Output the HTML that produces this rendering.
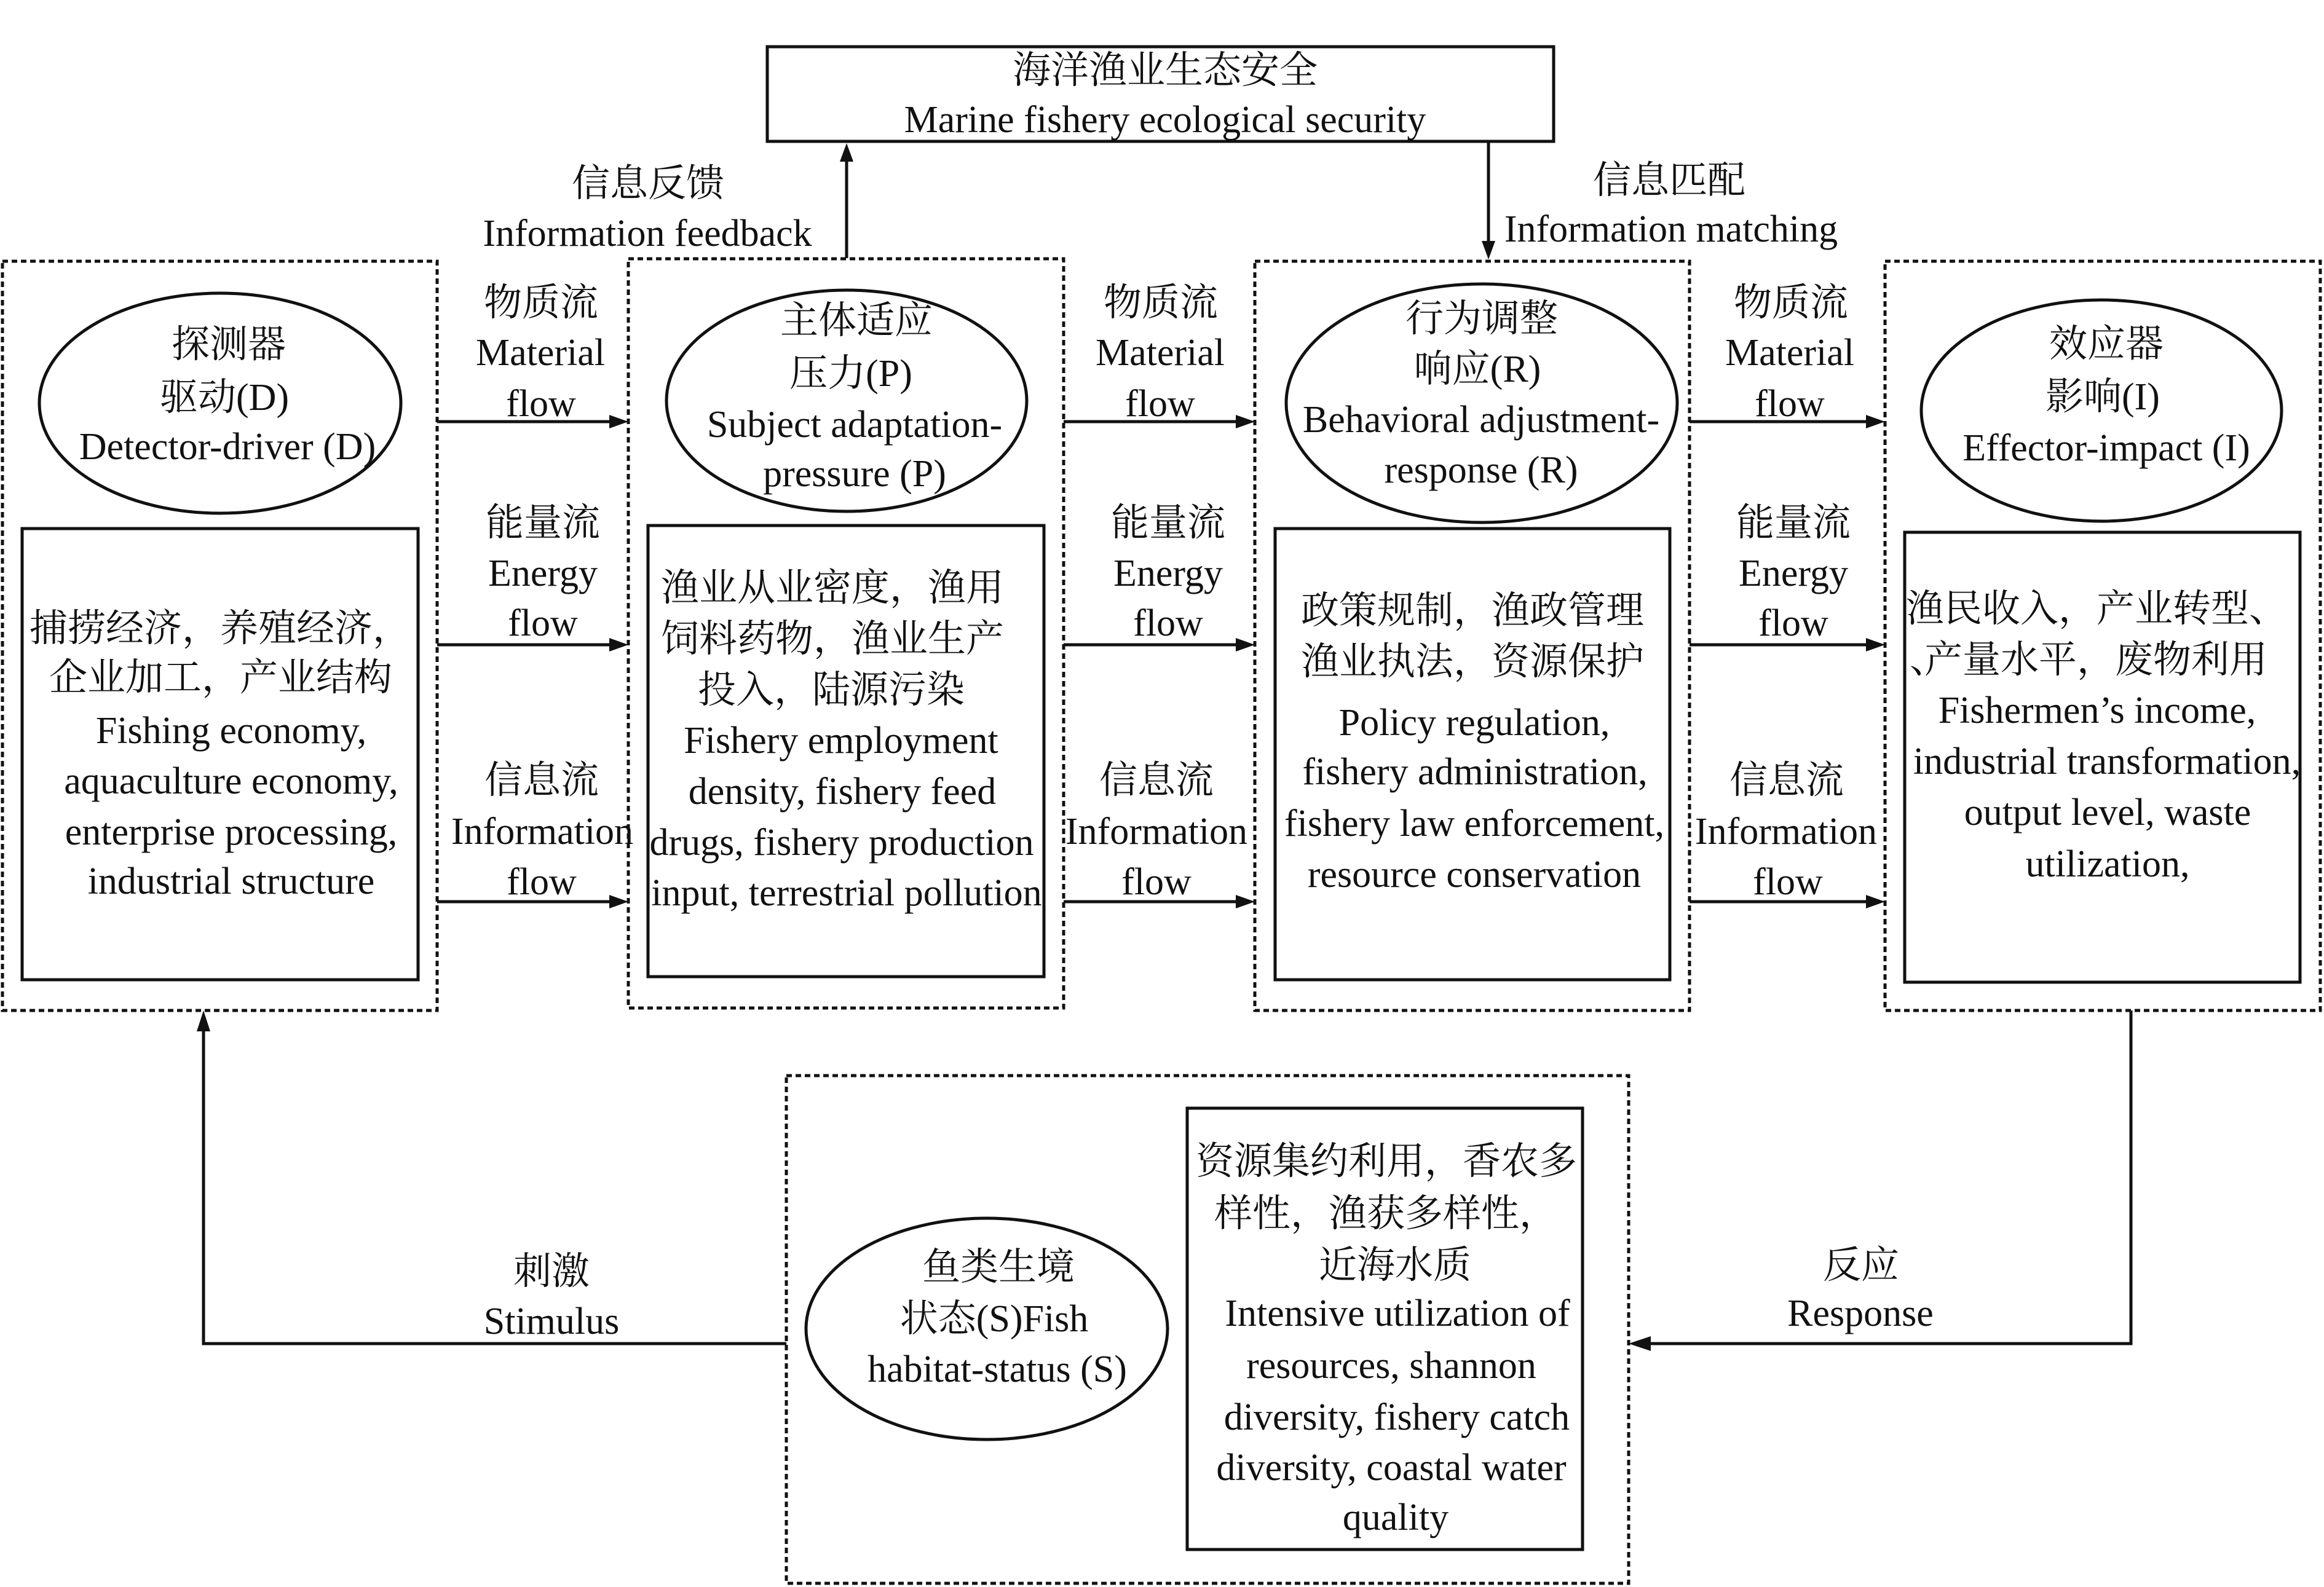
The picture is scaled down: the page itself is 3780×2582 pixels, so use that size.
<!DOCTYPE html>
<html>
<head>
<meta charset="utf-8">
<style>
  html, body { margin: 0; padding: 0; background: #ffffff; }
  svg { display: block; }
  text { font-family: "Liberation Serif", "Noto Serif CJK SC", "Noto Sans CJK SC", serif; font-size: 62px; fill: #111; }
</style>
</head>
<body>
<svg width="3780" height="2582" viewBox="0 0 3780 2582" xmlns="http://www.w3.org/2000/svg">
  <rect x="0" y="0" width="3780" height="2582" fill="#ffffff"/>

  <!-- dotted group boxes -->
  <g fill="none" stroke="#111" stroke-width="5" stroke-dasharray="9 6">
    <rect x="4" y="425" width="707" height="1219"/>
    <rect x="1022" y="421" width="708" height="1219"/>
    <rect x="2041" y="425" width="707" height="1219"/>
    <rect x="3066" y="425" width="708" height="1219"/>
    <rect x="1279" y="1750" width="1370" height="826"/>
  </g>

  <!-- solid boxes -->
  <g fill="none" stroke="#111" stroke-width="5">
    <rect x="1248" y="76" width="1279" height="154"/>
    <rect x="36" y="860" width="644" height="734"/>
    <rect x="1054" y="855" width="644" height="734"/>
    <rect x="2074" y="860" width="642" height="734"/>
    <rect x="3098" y="866" width="643" height="732"/>
    <rect x="1931" y="1803" width="643" height="718"/>
  </g>

  <!-- ellipses -->
  <g fill="none" stroke="#111" stroke-width="5">
    <ellipse cx="358" cy="656" rx="294" ry="179"/>
    <ellipse cx="1377" cy="652" rx="293" ry="180"/>
    <ellipse cx="2410" cy="656" rx="318" ry="194"/>
    <ellipse cx="3418" cy="668" rx="293" ry="180"/>
    <ellipse cx="1605" cy="2162" rx="294" ry="180"/>
  </g>

  <!-- connector lines -->
  <g stroke="#111" stroke-width="5" fill="none">
    <line x1="1377" y1="420" x2="1377" y2="258"/>
    <line x1="2421" y1="230" x2="2421" y2="396"/>
    <line x1="711" y1="686" x2="993" y2="686"/>
    <line x1="711" y1="1049" x2="993" y2="1049"/>
    <line x1="711" y1="1467" x2="993" y2="1467"/>
    <line x1="1730" y1="686" x2="2012" y2="686"/>
    <line x1="1730" y1="1049" x2="2012" y2="1049"/>
    <line x1="1730" y1="1467" x2="2012" y2="1467"/>
    <line x1="2748" y1="686" x2="3037" y2="686"/>
    <line x1="2748" y1="1049" x2="3037" y2="1049"/>
    <line x1="2748" y1="1467" x2="3037" y2="1467"/>
    <polyline points="1279,2186 331,2186 331,1674"/>
    <polyline points="3466,1644 3466,2186 2681,2186"/>
  </g>

  <!-- arrowheads -->
  <g fill="#111" stroke="none">
    <polygon points="1377,233 1366,263 1388,263"/>
    <polygon points="2421,422 2410,392 2432,392"/>
    <polygon points="1022,686 991,675 991,697"/>
    <polygon points="1022,1049 991,1038 991,1060"/>
    <polygon points="1022,1467 991,1456 991,1478"/>
    <polygon points="2041,686 2010,675 2010,697"/>
    <polygon points="2041,1049 2010,1038 2010,1060"/>
    <polygon points="2041,1467 2010,1456 2010,1478"/>
    <polygon points="3066,686 3035,675 3035,697"/>
    <polygon points="3066,1049 3035,1038 3035,1060"/>
    <polygon points="3066,1467 3035,1456 3035,1478"/>
    <polygon points="331,1644 320,1678 342,1678"/>
    <polygon points="2649,2186 2685,2174 2685,2198"/>
  </g>

  <!-- top box text -->
  <text x="1895" y="135" text-anchor="middle">海洋渔业生态安全</text>
  <text x="1895" y="215" text-anchor="middle">Marine fishery ecological security</text>

  <text x="1054" y="319" text-anchor="middle">信息反馈</text>
  <text x="1053" y="400" text-anchor="middle">Information feedback</text>
  <text x="2715" y="314" text-anchor="middle">信息匹配</text>
  <text x="2718" y="393" text-anchor="middle">Information matching</text>

  <!-- gap 1 labels -->
  <text x="880" y="513" text-anchor="middle">物质流</text>
  <text x="879" y="594" text-anchor="middle">Material</text>
  <text x="880" y="677" text-anchor="middle">flow</text>
  <text x="883" y="871" text-anchor="middle">能量流</text>
  <text x="883" y="953" text-anchor="middle">Energy</text>
  <text x="883" y="1034" text-anchor="middle">flow</text>
  <text x="881" y="1290" text-anchor="middle">信息流</text>
  <text x="882" y="1373" text-anchor="middle">Information</text>
  <text x="881" y="1455" text-anchor="middle">flow</text>

  <!-- gap 2 labels -->
  <text x="1888" y="513" text-anchor="middle">物质流</text>
  <text x="1887" y="594" text-anchor="middle">Material</text>
  <text x="1887" y="677" text-anchor="middle">flow</text>
  <text x="1900" y="871" text-anchor="middle">能量流</text>
  <text x="1900" y="953" text-anchor="middle">Energy</text>
  <text x="1900" y="1034" text-anchor="middle">flow</text>
  <text x="1881" y="1290" text-anchor="middle">信息流</text>
  <text x="1881" y="1373" text-anchor="middle">Information</text>
  <text x="1881" y="1455" text-anchor="middle">flow</text>

  <!-- gap 3 labels -->
  <text x="2913" y="513" text-anchor="middle">物质流</text>
  <text x="2911" y="594" text-anchor="middle">Material</text>
  <text x="2911" y="677" text-anchor="middle">flow</text>
  <text x="2917" y="871" text-anchor="middle">能量流</text>
  <text x="2917" y="953" text-anchor="middle">Energy</text>
  <text x="2917" y="1034" text-anchor="middle">flow</text>
  <text x="2906" y="1290" text-anchor="middle">信息流</text>
  <text x="2905" y="1373" text-anchor="middle">Information</text>
  <text x="2908" y="1455" text-anchor="middle">flow</text>

  <!-- ellipse 1 -->
  <text x="372" y="581" text-anchor="middle">探测器</text>
  <text x="365" y="667" text-anchor="middle">驱动(D)</text>
  <text x="370" y="747" text-anchor="middle">Detector-driver (D)</text>

  <!-- ellipse 2 -->
  <text x="1393" y="542" text-anchor="middle">主体适应</text>
  <text x="1384" y="628" text-anchor="middle">压力(P)</text>
  <text x="1390" y="711" text-anchor="middle">Subject adaptation-</text>
  <text x="1390" y="791" text-anchor="middle">pressure (P)</text>

  <!-- ellipse 3 -->
  <text x="2410" y="539" text-anchor="middle">行为调整</text>
  <text x="2403" y="621" text-anchor="middle">响应(R)</text>
  <text x="2409" y="703" text-anchor="middle">Behavioral adjustment-</text>
  <text x="2409" y="785" text-anchor="middle">response (R)</text>

  <!-- ellipse 4 -->
  <text x="3426" y="580" text-anchor="middle">效应器</text>
  <text x="3420" y="666" text-anchor="middle">影响(I)</text>
  <text x="3426" y="749" text-anchor="middle">Effector-impact (I)</text>

  <!-- ellipse 5 -->
  <text x="1624" y="2082" text-anchor="middle">鱼类生境</text>
  <text x="1617" y="2166" text-anchor="middle">状态(S)Fish</text>
  <text x="1622" y="2248" text-anchor="middle">habitat-status (S)</text>

  <!-- inner box 1 -->
  <text x="48" y="1043">捕捞经济，养殖经济，</text>
  <text x="80" y="1123">企业加工，产业结构</text>
  <text x="376" y="1209" text-anchor="middle">Fishing economy,</text>
  <text x="376" y="1291" text-anchor="middle">aquaculture economy,</text>
  <text x="376" y="1374" text-anchor="middle">enterprise processing,</text>
  <text x="376" y="1454" text-anchor="middle">industrial structure</text>

  <!-- inner box 2 -->
  <text x="1075" y="977">渔业从业密度，渔用</text>
  <text x="1075" y="1060">饲料药物，渔业生产</text>
  <text x="1135" y="1143">投入，陆源污染</text>
  <text x="1368" y="1225" text-anchor="middle">Fishery employment</text>
  <text x="1370" y="1308" text-anchor="middle">density, fishery feed</text>
  <text x="1369" y="1391" text-anchor="middle">drugs, fishery production</text>
  <text x="1377" y="1473" text-anchor="middle">input, terrestrial pollution</text>

  <!-- inner box 3 -->
  <text x="2116" y="1014">政策规制，渔政管理</text>
  <text x="2116" y="1097">渔业执法，资源保护</text>
  <text x="2398" y="1196" text-anchor="middle">Policy regulation,</text>
  <text x="2399" y="1276" text-anchor="middle">fishery administration,</text>
  <text x="2398" y="1360" text-anchor="middle">fishery law enforcement,</text>
  <text x="2398" y="1443" text-anchor="middle">resource conservation</text>

  <!-- inner box 4 -->
  <text x="3100" y="1011">渔民收入，产业转型、</text>
  <text x="3106" y="1094">、</text>
  <text x="3130" y="1094">产量水平，废物利用</text>
  <text x="3411" y="1176" text-anchor="middle">Fishermen’s income,</text>
  <text x="3427" y="1259" text-anchor="middle">industrial transformation,</text>
  <text x="3428" y="1342" text-anchor="middle">output level, waste</text>
  <text x="3428" y="1426" text-anchor="middle">utilization,</text>

  <!-- inner box 5 -->
  <text x="1945" y="1910">资源集约利用，香农多</text>
  <text x="1975" y="1995">样性，渔获多样性，</text>
  <text x="2269" y="2079" text-anchor="middle">近海水质</text>
  <text x="2273" y="2157" text-anchor="middle">Intensive utilization of</text>
  <text x="2263" y="2242" text-anchor="middle">resources, shannon</text>
  <text x="2272" y="2326" text-anchor="middle">diversity, fishery catch</text>
  <text x="2263" y="2408" text-anchor="middle">diversity, coastal water</text>
  <text x="2270" y="2489" text-anchor="middle">quality</text>

  <!-- bottom labels -->
  <text x="897" y="2089" text-anchor="middle">刺激</text>
  <text x="897" y="2170" text-anchor="middle">Stimulus</text>
  <text x="3027" y="2079" text-anchor="middle">反应</text>
  <text x="3026" y="2157" text-anchor="middle">Response</text>
</svg>
</body>
</html>
